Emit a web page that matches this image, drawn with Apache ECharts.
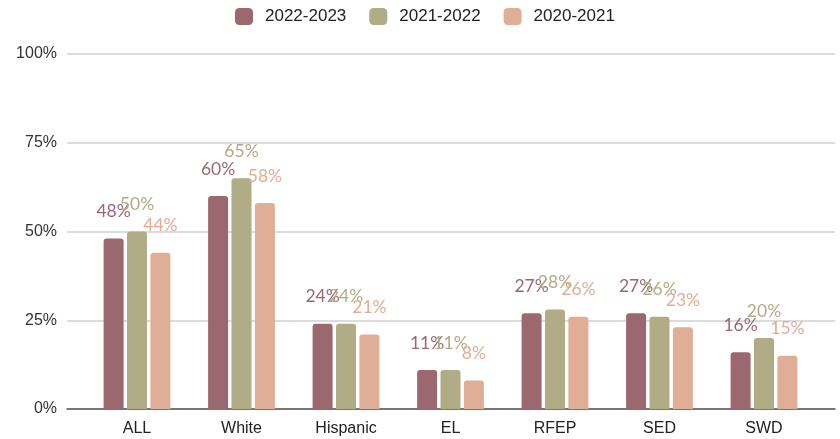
<!DOCTYPE html>
<html>
<head>
<meta charset="utf-8">
<style>html,body{margin:0;padding:0;background:#fff}#c{width:840px;height:439px}</style>
<script src="https://cdn.jsdelivr.net/npm/echarts@6/dist/echarts.min.js"></script>
</head>
<body>
<div id="c"></div>
<script>
const categories = ['ALL', 'White', 'Hispanic', 'EL', 'RFEP', 'SED', 'SWD'];
const seriesNames = ['2022-2023', '2021-2022', '2020-2021'];
const values2223 = [48, 60, 24, 11, 27, 27, 16];
const values2122 = [50, 65, 24, 11, 28, 26, 20];
const values2021 = [44, 58, 21, 8, 26, 23, 15];
const yTicks = [0, 25, 50, 75, 100];

const colors = ['#9b6870', '#b0ac86', '#e0ae96'];
const allValues = [values2223, values2122, values2021];

const chart = echarts.init(document.getElementById('c'), null, {renderer: 'canvas'});
const series = seriesNames.map((name, i) => ({
  name: name,
  type: 'bar',
  xAxisIndex: 1,
  yAxisIndex: 1,
  data: allValues[i],
  barWidth: 20,
  barGap: '17%',
  itemStyle: {color: colors[i], borderRadius: [3, 3, 0, 0]},
  label: {
    show: true,
    position: 'top',
    distance: 18,
    formatter: '{c}%',
    color: colors[i],
    fontFamily: 'Lato',
    fontSize: 17.5
  }
}));

chart.setOption({
  animation: false,
  color: colors,
  legend: {
    top: 3,
    left: 230,
    itemWidth: 18,
    itemHeight: 17,
    itemGap: 23,
    icon: 'roundRect',
    textStyle: {fontFamily: 'Liberation Sans, Arial', fontSize: 17, color: '#222', padding: [0, 0, 0, 7]},
    data: seriesNames
  },
  grid: [
    {left: 67, right: 5, top: 54, bottom: 30},
    {left: 84.75, right: 23.75, top: 54, bottom: 30}
  ],
  xAxis: [
    {gridIndex: 0, type: 'value', min: 0, max: 1, show: true,
     axisLine: {show: true, onZero: false, lineStyle: {color: '#555', width: 1.5}},
     axisTick: {show: false}, axisLabel: {show: false}, splitLine: {show: false}},
    {gridIndex: 1, type: 'category', data: categories,
     axisLine: {show: false}, axisTick: {show: false},
     axisLabel: {margin: 12, fontFamily: 'Liberation Sans, Arial', fontSize: 16, color: '#222'}}
  ],
  yAxis: [
    {gridIndex: 0, type: 'value', min: yTicks[0], max: yTicks[yTicks.length - 1], interval: 25,
     axisLine: {show: false}, axisTick: {show: false},
     axisLabel: {formatter: '{value}%', margin: 10, fontFamily: 'Liberation Sans, Arial', fontSize: 16, color: '#333'},
     splitLine: {lineStyle: {color: '#d0d0d0', width: 1.5}}},
    {gridIndex: 1, type: 'value', min: 0, max: 100, show: false, splitLine: {show: false}}
  ],
  series: series
});
</script>
</body>
</html>
